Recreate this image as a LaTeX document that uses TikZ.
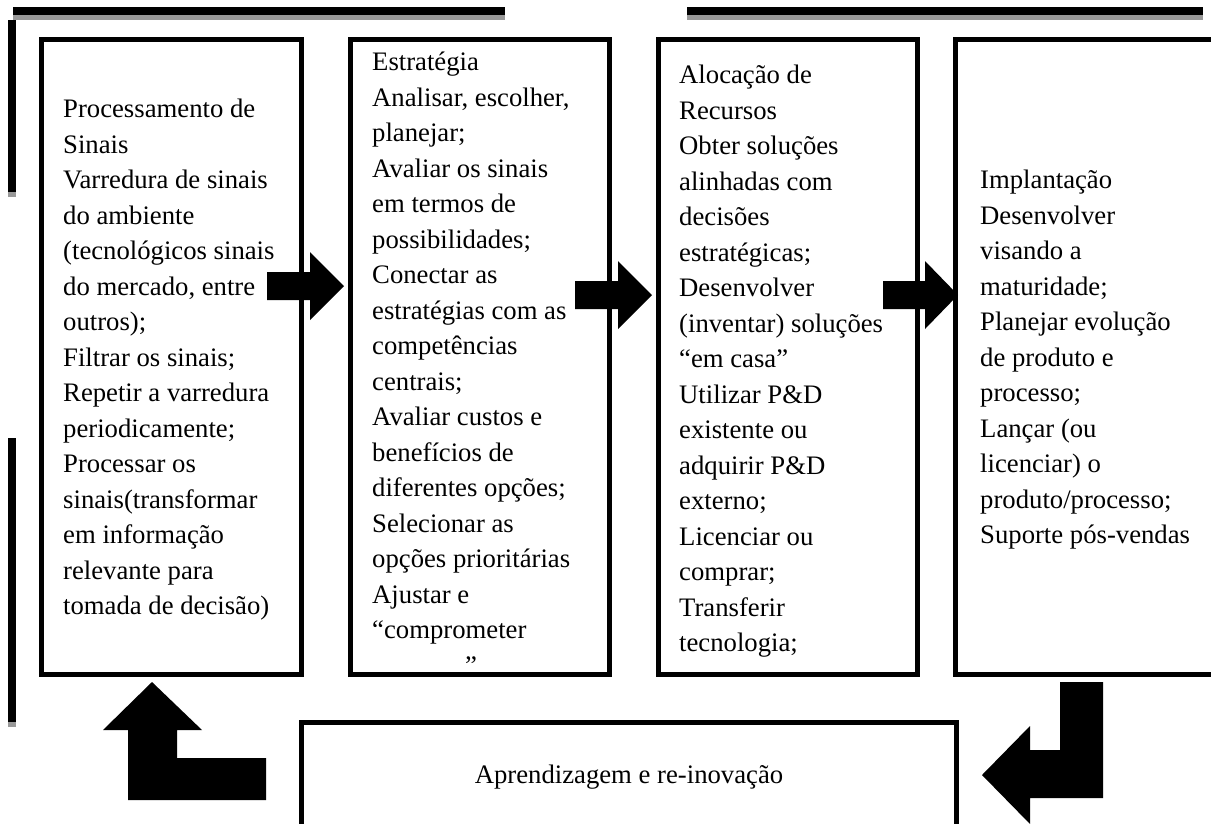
\documentclass[tikz,border=0pt]{standalone}
\usepackage{fontspec}
\setmainfont{Liberation Serif}

\begin{document}
\begin{tikzpicture}[x=1pt, y=-1pt,
	caixa/.style={draw=black, line width=5pt, minimum width=260pt, minimum height=635pt, inner sep=0pt},
	texto/.style={anchor=north west, align=left, inner sep=0pt, font=\fontsize{26.7}{35.5}\selectfont},
	sombra/.style={draw=black!40, line width=8pt},
	traco/.style={draw=black, line width=8pt}]

	% page
	\useasboundingbox (0,0) rectangle (1211,823);
	\clip (0,0) rectangle (1211,823);

	% frame lines (gray shadow first)
	\draw[sombra] (13,16) -- (505,16);
	\draw[traco] (13,11) -- (505,11);
	\draw[sombra] (687,16) -- (1203,16);
	\draw[traco] (687,11) -- (1203,11);
	\draw[sombra] (12,25) -- (12,197);
	\draw[traco] (12,20) -- (12,192);
	\draw[sombra] (12,443) -- (12,727);
	\draw[traco] (12,438) -- (12,722);

	% the four stages
	\node[caixa] (sinais) at (171.5,357) {};
	\node[caixa, minimum width=259pt] (estrategia) at (480,357) {};
	\node[caixa, minimum width=259pt] (recursos) at (788,357) {};
	\node[caixa] (implantacao) at (1085.5,357) {};
	% learning box (runs past the page)
	\node[caixa, minimum width=655pt, minimum height=160pt] (aprendizagem) at (629,802.5) {};

	% texts
	\node[texto] (t_sinais) at (63,98.8) {Processamento de\\Sinais\\Varredura de sinais\\do ambiente\\(tecnológicos sinais\\do mercado, entre\\outros);\\Filtrar os sinais;\\Repetir a varredura\\periodicamente;\\Processar os\\sinais(transformar\\em informação\\relevante para\\tomada de decisão)};
	\node[texto] (t_estrategia) at (372,51.8) {Estratégia\\Analisar, escolher,\\planejar;\\Avaliar os sinais\\em termos de\\possibilidades;\\Conectar as\\estratégias com as\\competências\\centrais;\\Avaliar custos e\\benefícios de\\diferentes opções;\\Selecionar as\\opções prioritárias\\Ajustar e\\“comprometer\\\hspace*{93pt}”};
	\node[texto] (t_recursos) at (679,64.8) {Alocação de\\Recursos\\Obter soluções\\alinhadas com\\decisões\\estratégicas;\\Desenvolver\\(inventar) soluções\\“em casa”\\Utilizar P\&D\\existente ou\\adquirir P\&D\\externo;\\Licenciar ou\\comprar;\\Transferir\\tecnologia;};
	\node[texto] (t_implantacao) at (980,169.8) {Implantação\\Desenvolver\\visando a\\maturidade;\\Planejar evolução\\de produto e\\processo;\\Lançar (ou\\licenciar) o\\produto/processo;\\Suporte pós-vendas};
	\node[texto, anchor=base] (t_aprendizagem) at (629,783) {Aprendizagem e re-inovação};

	% block arrows between stages
	\fill (267,272) -- (310,272) -- (310,252) -- (344,286) -- (310,320) -- (310,300) -- (267,300) -- cycle;
	\fill (575,281) -- (618,281) -- (618,261) -- (652,295) -- (618,329) -- (618,309) -- (575,309) -- cycle;
	\fill (883,281) -- (925,281) -- (925,261) -- (958,295) -- (925,329) -- (925,309) -- (883,309) -- cycle;

	% return arrows
	\fill (1060,682) -- (1103,682) -- (1103,798) -- (1030,798) -- (1030,824) -- (982,775) -- (1030,726) -- (1030,750) -- (1060,750) -- cycle;
	\fill (152,682) -- (202,730) -- (177,730) -- (177,758) -- (266,758) -- (266,800) -- (128,800) -- (128,730) -- (103,730) -- cycle;

\end{tikzpicture}
\end{document}
